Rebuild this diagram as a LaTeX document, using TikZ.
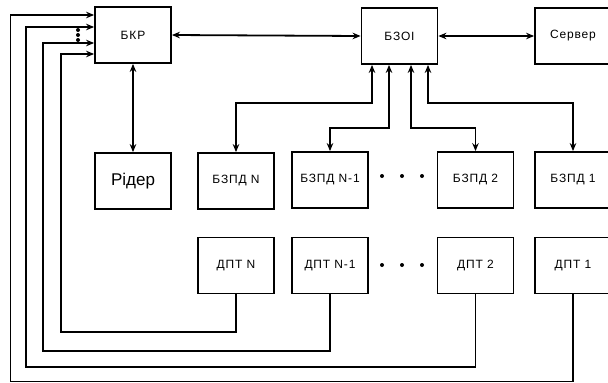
\documentclass[tikz,border=0pt]{standalone}
\usepackage{fontspec}
\setmainfont{Liberation Sans}
\usetikzlibrary{arrows.meta}

\begin{document}
\begin{tikzpicture}[x=1pt, y=-1pt,
  unitbox/.style={draw=black, line width=1.8pt, fill=white,
    minimum width=76pt, minimum height=56pt, inner sep=0pt,
    font=\fontsize{12}{14}\selectfont\addfontfeature{LetterSpace=7}},
  linkarrow/.style={{Stealth[length=8pt,width=6.5pt]}-{Stealth[length=8pt,width=6.5pt]}, line width=1.8pt},
  feedline/.style={-{Stealth[length=8pt,width=6.5pt]}, line width=1.8pt},
  smalldot/.style={circle, fill=black, inner sep=0pt, minimum size=4pt}
]
\useasboundingbox (0,0) rectangle (608,383);
\node[unitbox] (bkr) at (133,35) {БКР};
\node[unitbox] (bzoi) at (399.5,36) {БЗОІ};
\node[unitbox] (server) at (573,36) {Сервер};
\node[unitbox, font=\fontsize{17}{19}\selectfont] (reader) at (133,181) {Рідер};
\node[unitbox] (bzpdN) at (236,181) {БЗПД N};
\node[unitbox] (bzpdNm) at (330,180) {БЗПД N-1};
\node[unitbox] (bzpdTwo) at (475.5,180) {БЗПД 2};
\node[unitbox] (bzpdOne) at (573,180) {БЗПД 1};
\node[unitbox] (dptN) at (236,265.5) {ДПТ N};
\node[unitbox] (dptNm) at (330,265.5) {ДПТ N-1};
\node[unitbox] (dptTwo) at (475.5,265.5) {ДПТ 2};
\node[unitbox] (dptOne) at (573,265.5) {ДПТ 1};
\draw[linkarrow] (bkr.east) -- (bzoi.west);
\draw[linkarrow] (bzoi.east) -- (server.west);
\draw[linkarrow] (bkr.south) -- (reader.north);
\draw[linkarrow] ([xshift=-27.5pt]bzoi.south) -- ++(0,38) -| (bzpdN.north);
\draw[linkarrow] ([xshift=-10.5pt]bzoi.south) -- ++(0,63) -| (bzpdNm.north);
\draw[linkarrow] ([xshift=11.5pt]bzoi.south) -- ++(0,63) -| (bzpdTwo.north);
\draw[linkarrow] ([xshift=28.5pt]bzoi.south) -- ++(0,38) -| (bzpdOne.north);
\draw[feedline] (dptN.south) |- (61,332) |- ([yshift=-19pt]bkr.west);
\draw[feedline] (dptNm.south) |- (43,351) |- ([yshift=-8pt]bkr.west);
\draw[feedline] (dptTwo.south) |- (26,367) |- ([yshift=8pt]bkr.west);
\draw[feedline] (dptOne.south) |- (10.5,381.5) |- ([yshift=20pt]bkr.west);
\foreach \yy in {30,35,40}
  \node[smalldot] (vdot\yy) at (78,\yy) {};
\foreach \xx in {382,402,422} {
  \node[smalldot] (udot\xx) at (\xx,176) {};
  \node[smalldot] (ldot\xx) at (\xx,265) {};
}
\end{tikzpicture}
\end{document}
